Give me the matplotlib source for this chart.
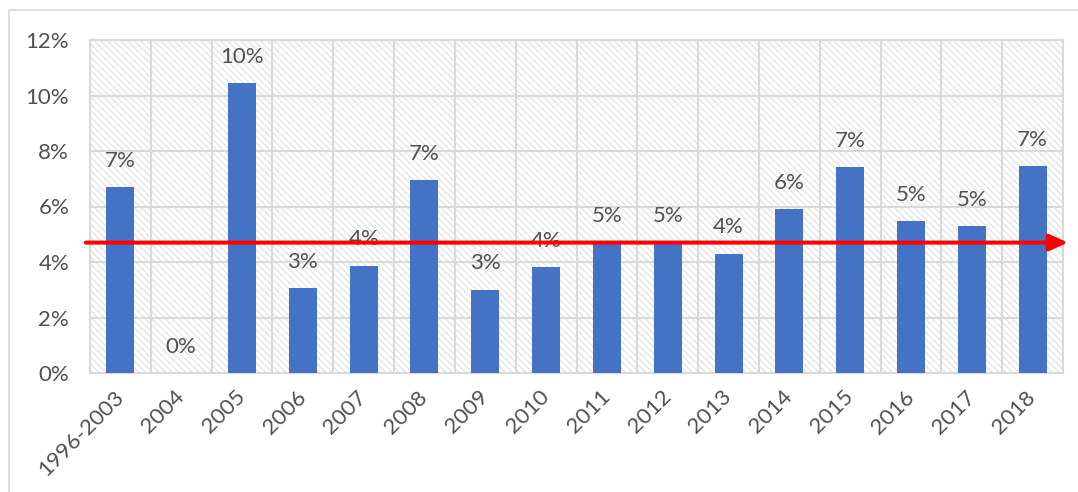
import numpy as np
from matplotlib import pyplot as plt
from matplotlib.patches import Rectangle
from matplotlib.ticker import PercentFormatter

plt.rcParams['font.family'] = ['Lato', 'DejaVu Sans']
plt.rcParams['hatch.linewidth'] = 0.9

# yearly rates, fraction of 1
years = ['1996-2003', '2004', '2005', '2006', '2007', '2008', '2009', '2010',
         '2011', '2012', '2013', '2014', '2015', '2016', '2017', '2018']
rates = [0.067, 0.0, 0.1045, 0.0306, 0.0386, 0.0695, 0.030, 0.0382,
         0.0472, 0.0472, 0.043, 0.059, 0.0742, 0.0548, 0.053, 0.0746]
trend_level = 0.047
y_ticks = [0.0, 0.02, 0.04, 0.06, 0.08, 0.10, 0.12]

bar_color = '#4472C4'
grid_color = '#D9D9D9'
text_color = '#505050'

fig = plt.figure(figsize=(10.78, 4.92), dpi=100)
ax = fig.add_axes([90/1078, 119/492, 973/1078, 333/492])

# chart frame
fig.patches.append(Rectangle((9/1078, -0.1), 1.2, (492-10)/492 + 0.1,
                             transform=fig.transFigure, fill=False,
                             edgecolor=grid_color, linewidth=1.2))

# hatched plot area
ax.add_patch(Rectangle((0, 0), 1, 1, transform=ax.transAxes, fill=False,
                       hatch='\\\\\\\\\\', edgecolor='#E2E2E2', linewidth=0, zorder=0))

x = np.arange(len(years))
ax.bar(x, rates, width=0.46, color=bar_color, zorder=3)

for xi, r in zip(x, rates):
    ax.annotate(f'{r:.0%}', (xi, r), xytext=(0, 19), textcoords='offset points',
                ha='center', va='center', fontsize=16, color=text_color, zorder=4)

ax.set_xlim(-0.5, len(years) - 0.5)
ax.set_ylim(0, 0.12)
ax.set_yticks(y_ticks)
ax.yaxis.set_major_formatter(PercentFormatter(1.0, decimals=0))

# gridlines on category boundaries
ax.set_xticks(np.arange(len(years) + 1) - 0.5, minor=True)
ax.grid(True, which='minor', axis='x', color=grid_color, linewidth=1.5, zorder=1)
ax.grid(True, which='major', axis='y', color=grid_color, linewidth=1.5, zorder=1)
ax.set_axisbelow(True)

ax.set_xticks(x)
ax.set_xticklabels(years, rotation=45, ha='right', va='center',
                   rotation_mode='anchor')
ax.tick_params(axis='both', which='both', length=0, labelsize=16,
               colors=text_color)
ax.tick_params(axis='x', pad=15)
ax.tick_params(axis='y', pad=15)

for s in ax.spines.values():
    s.set_color(grid_color)
    s.set_linewidth(1.5)

# red trend arrow
ax.annotate('', xy=(15.58, trend_level), xytext=(-0.57, trend_level),
            arrowprops=dict(arrowstyle='-|>,head_length=0.55,head_width=0.25',
                            color='red', lw=2.9, mutation_scale=20,
                            shrinkA=0, shrinkB=0),
            annotation_clip=False, zorder=5)

fig.savefig('out.png', dpi=100)
